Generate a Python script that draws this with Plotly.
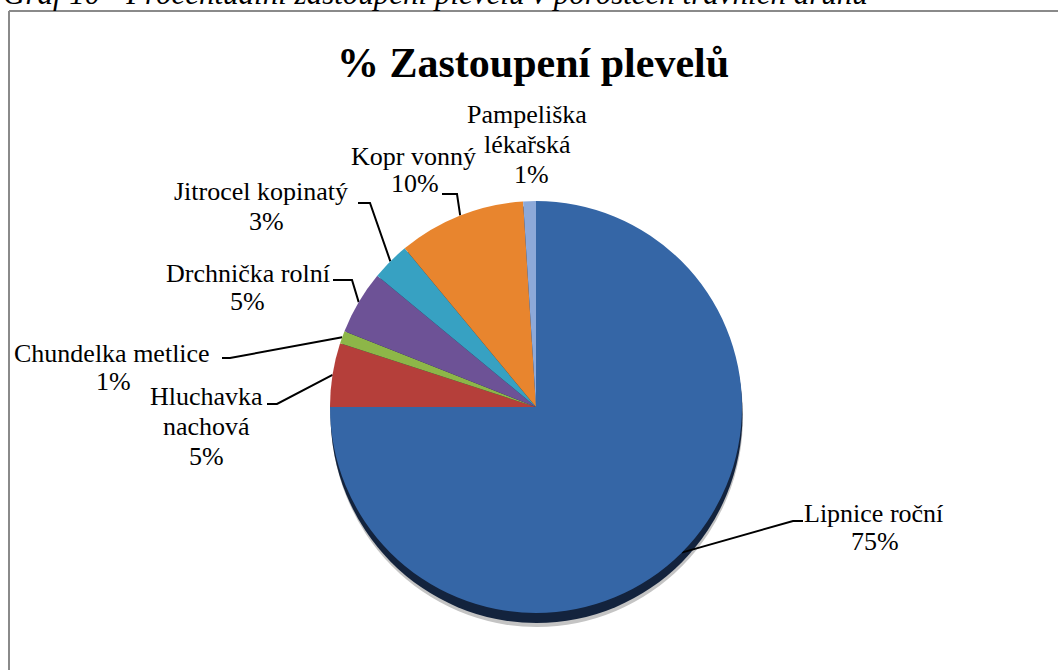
import math
import plotly.graph_objects as go

# ---------------- data ----------------
categories = ["Lipnice roční", "Hluchavka nachová", "Chundelka metlice",
              "Drchnička rolní", "Jitrocel kopinatý", "Kopr vonný",
              "Pampeliška lékařská"]
values = [75, 5, 1, 5, 3, 10, 1]
label_lines = [["Lipnice roční"], ["Hluchavka", "nachová"], ["Chundelka metlice"],
               ["Drchnička rolní"], ["Jitrocel kopinatý"], ["Kopr vonný"],
               ["Pampeliška", "lékařská"]]
chart_title = "% Zastoupení plevelů"
caption = "Graf 10 - Procentuální zastoupení plevelů v porostech travních druhů"

# ---------------- style / layout ----------------
colors = ["#3566A6", "#B53F3A", "#8DB648", "#6D5296", "#37A1C2", "#E8852E", "#8DA9D9"]
W, H = 1058, 670
CX, CY, R = 536, 407, 206          # pie centre / radius in pixels
FS = 26                              # label font size
SERIF = "Liberation Serif"

# label placement: centre x of each line, baseline y of each line, leader path (elbow -> end)
label_x = [[873, 875], [206, 206, 206], [112, 113], [248, 247], [261, 266], [413, 415], [527, 527, 531]]
label_base = [[522, 550], [405, 435, 465], [362, 390], [282, 310], [200, 230], [165, 192], [123, 153, 183]]
leader_path = [[(793, 521), (803, 521)], [(277, 404), (267, 404)], [(230, 358), (222, 358)],
               [(352, 280), (333, 280)], [(370, 203), (358, 203)], [(457, 194), (442, 194)], []]


def px(x):
    return x / W


def py(y):
    return 1 - y / H


fig = go.Figure()

total = sum(values)
cum = 0.0
for i, v in enumerate(values):
    mid = (cum + v / 2) / total * 360.0
    cum += v
    if not leader_path[i]:
        continue
    a = math.radians(mid)
    ex = CX + R * math.sin(a)
    ey = CY - R * math.cos(a)
    xs = [ex] + [p[0] for p in leader_path[i]]
    ys = [ey] + [p[1] for p in leader_path[i]]
    fig.add_trace(go.Scatter(x=xs, y=ys, mode="lines", line=dict(color="black", width=2),
                             hoverinfo="skip", showlegend=False))

fig.add_trace(go.Pie(
    labels=categories, values=values, sort=False, direction="clockwise", rotation=0,
    marker=dict(colors=colors, line=dict(width=0)),
    textinfo="none", textposition="none", hoverinfo="label+percent", showlegend=False,
    domain=dict(x=[px(CX - R), px(CX + R)], y=[py(CY + R), py(CY - R)]),
))

annotations = []


def add_text(text, x, base, size, bold=False, italic=False):
    yc = base - 0.34 * size
    annotations.append(dict(text=text, x=px(x), y=py(yc), xref="paper", yref="paper",
                            xanchor="center", yanchor="middle", showarrow=False,
                            font=dict(family=SERIF, size=size, color="black",
                                      weight="bold" if bold else "normal",
                                      style="italic" if italic else "normal")))


for i, v in enumerate(values):
    lines = label_lines[i] + [f"{round(v / total * 100)}%"]
    for j, line in enumerate(lines):
        add_text(line, label_x[i][j], label_base[i][j], FS)

add_text(chart_title, 533, 77, 42, bold=True)
add_text(caption, 435, 4, 31, italic=True)

shapes = [
    dict(type="circle", xref="paper", yref="paper", layer="below",
         x0=px(CX - R + 1), x1=px(CX + R + 1), y0=py(CY + R + 14), y1=py(CY - R + 6),
         fillcolor="#c4c4c4", line=dict(width=0)),
    dict(type="circle", xref="paper", yref="paper", layer="below",
         x0=px(CX - R + 0.5), x1=px(CX + R + 0.5), y0=py(CY + R + 10), y1=py(CY - R + 5),
         fillcolor="#13233d", line=dict(width=0)),
    dict(type="line", xref="paper", yref="paper", x0=px(9), x1=1.02, y0=py(11), y1=py(11),
         line=dict(color="#8a8a8a", width=2)),
    dict(type="line", xref="paper", yref="paper", x0=px(9), x1=px(9), y0=py(11), y1=-0.02,
         line=dict(color="#8a8a8a", width=2)),
]

fig.update_layout(
    width=W, height=H, margin=dict(l=0, r=0, t=0, b=0),
    paper_bgcolor="white", plot_bgcolor="rgba(0,0,0,0)",
    font=dict(family=SERIF),
    xaxis=dict(range=[0, W], visible=False, domain=[0, 1], fixedrange=True),
    yaxis=dict(range=[H, 0], visible=False, domain=[0, 1], fixedrange=True),
    annotations=annotations, shapes=shapes,
)

fig.write_html("out.html")
